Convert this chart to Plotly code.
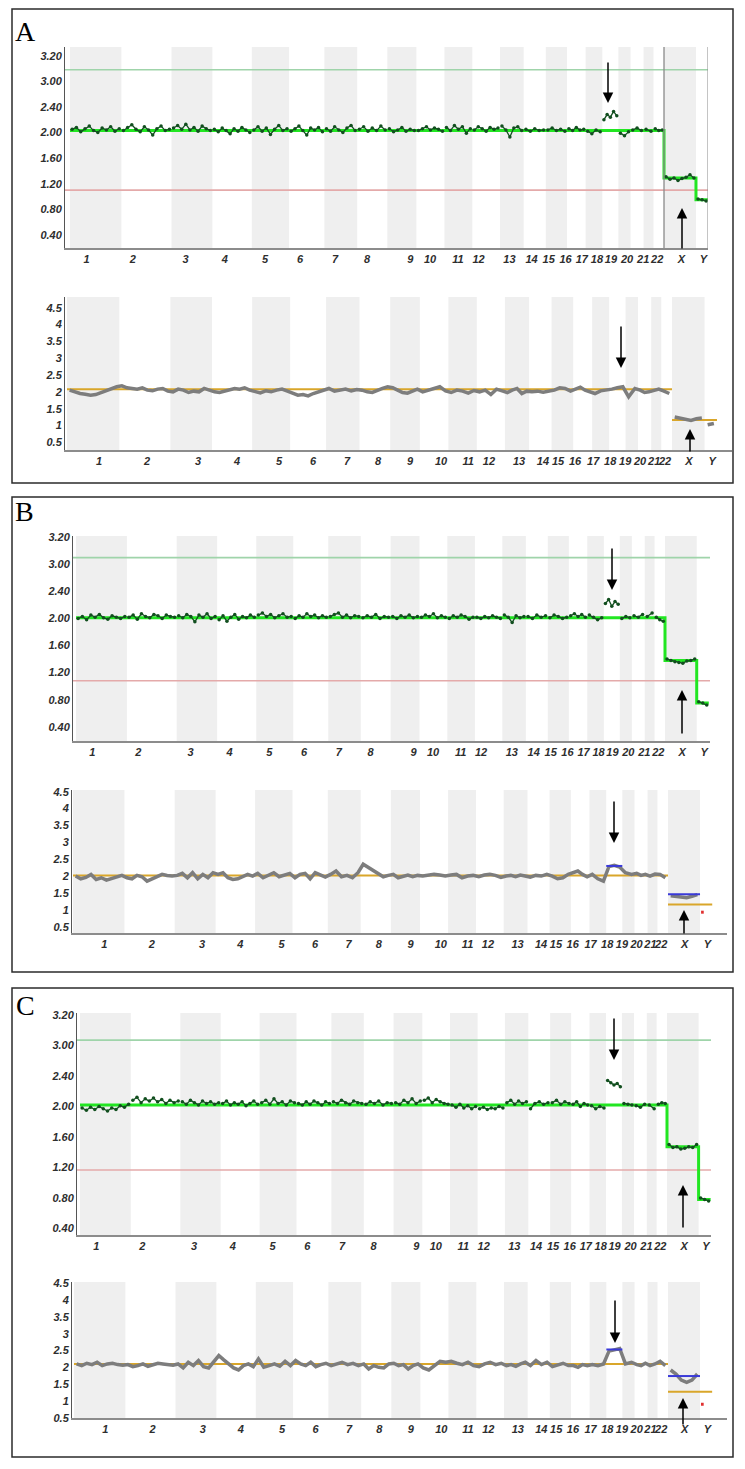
import plotly.graph_objects as go

W, H = 745, 1469

# ---------------- data ----------------
chroms = [str(i) for i in range(1, 23)] + ["X", "Y"]
chrom_len = [249, 243, 198, 191, 181, 171, 159, 146, 141, 136, 135, 134,
             115, 107, 103, 90, 81, 78, 59, 63, 48, 51, 155, 59]

top_ticks_vals = [0.4, 0.8, 1.2, 1.6, 2.0, 2.4, 2.8, 3.2]
top_ticks_text = ["0.40", "0.80", "1.20", "1.60", "2.00", "2.40", "3.00", "3.20"]
bot_ticks_vals = [0.5, 1, 1.5, 2, 2.5, 3, 3.5, 4, 4.5]
bot_ticks_text = ["0.5", "1", "1.5", "2", "2.5", "3", "3.5", "4", "4.5"]

# copy-number points (top plots), per chromosome
a_top = [
    [2.05, 2.08, 2.01, 2.06, 2.10, 2.03, 2.00, 2.07, 2.04, 2.09, 2.02, 2.06],
    [2.03, 2.08, 2.12, 2.05, 2.01, 2.09, 2.04, 1.96, 2.06, 2.10, 2.03, 2.05],
    [2.07, 2.11, 2.05, 2.13, 2.04, 2.08, 2.02, 2.10, 2.06, 2.03],
    [2.05, 2.01, 2.07, 2.03, 1.98, 2.06, 2.02, 2.08, 2.04, 2.00],
    [2.04, 2.09, 2.02, 2.07, 1.97, 2.05, 2.11, 2.03, 2.06],
    [2.02, 2.06, 2.10, 2.03, 1.96, 2.07, 2.04, 2.08, 2.01],
    [2.06, 2.02, 2.09, 2.04, 2.00, 2.07, 2.11, 2.03],
    [2.05, 2.09, 2.02, 2.07, 2.03, 2.10, 2.04],
    [2.06, 2.01, 2.04, 2.08, 2.02, 2.05, 2.03],
    [2.03, 2.06, 2.09, 2.04, 2.07, 2.05, 2.02],
    [2.08, 2.03, 2.11, 2.05, 2.09, 1.99, 2.06],
    [2.04, 2.09, 2.06, 2.02, 2.08, 2.05, 2.07],
    [2.10, 2.04, 1.93, 2.07, 2.09, 2.03],
    [2.05, 2.02, 2.06, 2.03, 2.04],
    [2.04, 2.07, 2.03, 2.05, 2.02],
    [2.06, 2.03, 2.08, 2.04, 2.05],
    [2.02, 1.98, 2.04, 2.01],
    [2.20, 2.28, 2.24, 2.33, 2.26],
    [1.99, 1.95, 2.01],
    [2.04, 2.07, 2.03],
    [2.05, 2.02],
    [2.06, 2.03, 2.04],
    [1.31, 1.27, 1.29, 1.25, 1.28, 1.30, 1.34, 1.29],
    [0.96, 0.95, 0.93],
]
b_top = [
    [2.00, 2.03, 1.98, 2.05, 2.02, 2.06, 2.01, 1.99, 2.04, 2.02, 2.00, 2.03],
    [2.02, 2.05, 1.99, 2.07, 2.03, 2.01, 2.06, 2.04, 2.00, 2.05, 2.03, 2.02],
    [2.04, 2.01, 2.06, 2.03, 1.95, 2.05, 2.02, 2.07, 2.00, 2.03],
    [1.98, 2.04, 1.96, 2.02, 2.06, 1.99, 2.03, 2.01, 2.05, 2.02],
    [2.05, 2.08, 2.03, 2.06, 2.01, 2.04, 2.07, 2.02, 2.03],
    [2.00, 2.04, 2.02, 2.07, 2.03, 2.05, 2.01, 2.04, 2.02],
    [2.03, 2.06, 2.08, 2.02, 2.05, 2.01, 2.04, 2.03],
    [2.01, 2.04, 2.02, 2.06, 2.00, 2.03, 2.02],
    [2.03, 2.00, 2.04, 2.02, 2.05, 2.01, 2.03],
    [2.02, 2.05, 2.03, 2.07, 2.01, 2.04, 2.02],
    [2.00, 2.04, 2.02, 2.05, 2.03, 1.99, 2.02],
    [2.02, 2.00, 2.03, 2.01, 2.04, 2.02, 2.00],
    [2.05, 2.02, 1.94, 2.04, 2.01, 2.03],
    [2.03, 2.00, 2.05, 2.02, 2.04],
    [2.01, 2.05, 2.03, 2.00, 2.02],
    [2.04, 2.07, 2.03, 2.06, 2.02],
    [2.05, 2.02, 1.98, 2.01],
    [2.22, 2.28, 2.18, 2.25, 2.21],
    [2.00, 2.03, 2.01],
    [2.04, 2.02, 2.06],
    [2.03, 2.08],
    [2.02, 1.98, 1.96],
    [1.40, 1.38, 1.36, 1.35, 1.34, 1.37, 1.38, 1.40],
    [0.77, 0.75, 0.72],
]
c_top = [
    [1.98, 1.95, 1.99, 1.96, 2.00, 1.97, 1.94, 1.98, 1.96, 2.01, 1.99, 2.03],
    [2.08, 2.12, 2.05, 2.10, 2.07, 2.11, 2.06, 2.09, 2.04, 2.08, 2.05, 2.07],
    [2.06, 2.03, 2.08, 2.05, 2.02, 2.07, 2.04, 2.06, 2.03, 2.05],
    [2.04, 2.07, 2.02, 2.05, 2.03, 2.06, 2.01, 2.04, 2.07, 2.03],
    [2.05, 2.08, 2.03, 2.10, 2.04, 2.06, 2.02, 2.07, 2.05],
    [2.04, 2.02, 2.06, 2.03, 2.07, 2.05, 2.02, 2.06, 2.04],
    [2.06, 2.04, 2.08, 2.05, 2.03, 2.07, 2.05, 2.04],
    [2.03, 2.06, 2.04, 2.07, 2.02, 2.05, 2.04],
    [2.05, 2.03, 2.08, 2.05, 2.10, 2.04, 2.07],
    [2.08, 2.11, 2.05, 2.09, 2.06, 2.04, 2.03],
    [2.02, 1.99, 2.03, 1.98, 2.01, 1.97, 2.00],
    [1.97, 1.99, 1.96, 1.98, 1.97, 2.00, 1.98],
    [2.05, 2.08, 2.03, 2.07, 2.04, 2.06],
    [1.97, 2.04, 2.06, 2.03, 2.05],
    [2.05, 2.08, 2.03, 2.06, 2.04],
    [2.03, 2.06, 2.00, 2.04, 2.02],
    [2.01, 1.97, 2.00, 1.98],
    [2.34, 2.31, 2.28, 2.30, 2.26],
    [2.04, 2.03, 2.02],
    [2.01, 1.99, 2.03],
    [2.02, 1.97],
    [2.03, 2.05, 2.04],
    [1.50, 1.46, 1.47, 1.44, 1.45, 1.47, 1.46, 1.50],
    [0.80, 0.78, 0.76],
]
# segment levels [autosomes, X, Y]
a_seg = [2.03, 1.29, 0.95]
b_seg = [2.01, 1.38, 0.75]
c_seg = [2.02, 1.47, 0.78]
# threshold lines [gain, loss]
a_thr = [2.98, 1.10]
b_thr = [2.90, 1.08]
c_thr = [2.87, 1.165]

# ratio profiles (bottom plots), per chromosome
a_bot = [
    [2.05, 2.00, 1.95, 1.93, 1.90, 1.92, 1.98, 2.03, 2.10, 2.15],
    [2.18, 2.12, 2.10, 2.08, 2.12, 2.05, 2.03, 2.08, 2.10, 2.02],
    [2.00, 2.08, 2.05, 1.98, 2.02, 2.00, 2.10, 2.05],
    [2.00, 1.98, 2.02, 2.08, 2.10, 2.08, 2.12, 2.05],
    [2.00, 1.97, 2.03, 2.00, 2.05, 2.08, 2.02],
    [1.97, 1.90, 1.92, 1.88, 1.95, 2.00, 2.05],
    [2.10, 2.02, 2.05, 2.08, 2.03, 2.07],
    [2.05, 2.00, 1.98, 2.05, 2.10, 2.15],
    [2.12, 2.05, 1.98, 1.96, 2.02, 2.08],
    [2.00, 2.05, 2.10, 2.15, 2.03],
    [1.98, 2.05, 2.02, 1.96, 2.04],
    [2.00, 2.05, 1.92, 2.08, 2.03],
    [1.98, 2.05, 2.10, 1.95, 2.02],
    [2.00, 2.02, 1.99, 2.01],
    [2.05, 2.12, 2.10, 2.02],
    [2.08, 2.14, 2.05, 2.00],
    [1.95, 2.03, 2.05],
    [2.08, 2.12, 2.15],
    [1.85, 2.10],
    [2.05, 1.98, 2.00],
    [2.05, 2.08],
    [2.02, 1.95],
    [1.25, 1.22, 1.18, 1.15, 1.20, 1.22],
    [1.02, 1.06],
]
b_bot = [
    [2.00, 1.92, 1.96, 2.05, 1.90, 1.95, 1.88, 1.93, 1.98, 2.02],
    [1.95, 1.92, 2.02, 1.98, 1.85, 1.92, 2.00, 2.05, 2.02, 2.00],
    [2.02, 2.08, 1.95, 2.10, 1.92, 2.05, 1.95, 2.10],
    [2.05, 2.10, 1.95, 1.90, 1.92, 1.98, 2.05, 2.00],
    [2.08, 1.95, 2.02, 2.10, 1.98, 2.03, 2.08],
    [1.95, 2.05, 2.08, 1.92, 2.10, 2.03, 1.97],
    [2.05, 2.15, 1.98, 2.02, 1.95, 2.10],
    [2.35, 2.25, 2.15, 2.05, 1.98, 2.02],
    [2.05, 1.95, 2.00, 2.03, 1.98, 2.02],
    [2.00, 2.02, 2.05, 2.03, 2.00],
    [2.03, 2.05, 1.95, 2.00, 2.02],
    [1.98, 2.03, 2.05, 2.02, 1.96],
    [2.00, 2.02, 1.98, 2.03, 2.00],
    [1.97, 2.02, 2.00, 2.05],
    [2.00, 1.92, 1.95, 2.05],
    [2.10, 2.15, 2.05, 1.98],
    [2.05, 1.92, 1.85],
    [2.28, 2.32, 2.27],
    [2.10, 2.05],
    [2.08, 2.02, 2.05],
    [2.00, 2.06],
    [2.05, 1.95],
    [1.42, 1.40, 1.38, 1.36, 1.40, 1.45],
    [],
]
c_bot = [
    [2.10, 2.05, 2.12, 2.08, 2.15, 2.05, 2.10, 2.12, 2.08, 2.06],
    [2.08, 2.02, 2.05, 2.10, 2.03, 2.08, 2.12, 2.10, 2.08, 2.06],
    [2.10, 1.98, 2.15, 2.05, 2.20, 2.02, 1.98, 2.18],
    [2.35, 2.22, 2.10, 1.98, 1.92, 2.05, 2.10, 2.02],
    [2.25, 2.00, 2.05, 2.10, 2.03, 2.18, 2.05],
    [2.20, 2.10, 2.05, 2.15, 2.02, 2.08, 2.12],
    [2.05, 2.10, 2.15, 2.08, 2.12, 2.05],
    [2.10, 1.95, 2.05, 2.00, 1.98, 2.10],
    [2.12, 2.05, 2.08, 1.95, 2.05, 2.10],
    [1.98, 1.92, 2.05, 2.18, 2.15],
    [2.18, 2.12, 2.08, 2.15, 2.05],
    [2.02, 2.10, 2.15, 2.08, 2.12],
    [2.05, 2.08, 2.03, 2.10, 2.15],
    [2.05, 2.20, 2.08, 2.15],
    [2.02, 2.08, 2.12, 2.05],
    [2.05, 2.00, 2.08, 2.05],
    [2.08, 2.05, 2.10],
    [2.48, 2.52, 2.56],
    [2.10, 2.15],
    [2.08, 2.05, 2.12],
    [2.05, 2.10],
    [2.18, 2.05],
    [1.92, 1.80, 1.62, 1.55, 1.62, 1.80],
    [],
]
# baseline levels [autosomes, sex chromosomes]
a_base = [2.08, 1.16]
b_base = [2.02, 1.16]
c_base = [2.10, 1.27]
# called segments: chr18 level, X level, Y level
b_calls = [2.30, 1.46, 0.93]
c_calls = [2.53, 1.74, 0.90]

# tick label positions (Mb along genome)
top_label_pos = [80, 305, 560, 750, 945, 1115, 1285, 1440, 1650, 1745, 1880, 1980,
                 2130, 2237, 2320, 2402, 2481, 2554, 2622, 2700, 2778, 2846, 2963, 3070]
bot_label_pos = [152, 381, 624, 809, 1009, 1171, 1333, 1480, 1633, 1780, 1909, 2008,
                 2151, 2265, 2337, 2418, 2504, 2585, 2656, 2727, 2794, 2846, 2960, 3070]

# ---------------- helpers ----------------
starts = []
acc = 0
for L in chrom_len:
    starts.append(acc)
    acc += L
genome_end = acc
x_start = starts[22]
y_start = starts[23]


def pxx(p):
    return p / W


def pxy(p):
    return 1 - p / H


fig = go.Figure()
shapes = []
annotations = []

TICKFONT = dict(family="Liberation Sans", size=11, color="#2e2e2e",
                weight="bold", style="italic")


def setup_axes(n, geom, ytv, ytt, label_pos):
    left, right, p0, pX, top, bottom, yv, ypx, ppu = geom
    s = (pX - p0) / x_start
    xr = [(left - p0) / s, (right - p0) / s]
    yr = [yv - (bottom - ypx) / ppu, yv + (ypx - top) / ppu]
    xa = "xaxis" if n == 1 else f"xaxis{n}"
    ya = "yaxis" if n == 1 else f"yaxis{n}"
    xn = "x" if n == 1 else f"x{n}"
    yn = "y" if n == 1 else f"y{n}"
    fig.layout[xa] = dict(domain=[pxx(left), pxx(right)], range=xr, anchor=yn,
                          showgrid=False, zeroline=False, showline=True,
                          linecolor="#8c8c8c", linewidth=2, ticks="",
                          tickvals=label_pos, ticktext=chroms, tickfont=TICKFONT,
                          tickangle=0, fixedrange=True, automargin=False)
    fig.layout[ya] = dict(domain=[pxy(bottom), pxy(top)], range=yr, anchor=xn,
                          showgrid=False, zeroline=False, showline=True,
                          linecolor="#555555", linewidth=1, ticks="",
                          tickvals=ytv, ticktext=ytt, tickfont=TICKFONT,
                          fixedrange=True, automargin=False)
    for i, c in enumerate(chroms):
        if c == "Y":
            continue
        if (i % 2 == 0 and i < 22) or c == "X":
            shapes.append(dict(type="rect", xref=xn, yref=f"{yn} domain",
                               x0=starts[i], x1=starts[i] + chrom_len[i], y0=0, y1=1,
                               fillcolor="#efefef", line=dict(width=0), layer="below"))
    return xn, yn


def per_chrom_xy(vals, gaps=True):
    xs, ys = [], []
    for i, v in enumerate(vals):
        n = len(v)
        if n == 0:
            continue
        for k, val in enumerate(v):
            xs.append(starts[i] + chrom_len[i] * (k + 0.5) / n)
            ys.append(val)
        if gaps or i >= 21:
            xs.append(None)
            ys.append(None)
    return xs, ys


def add_top(n, geom, vals, seg, thr):
    xn, yn = setup_axes(n, geom, top_ticks_vals, top_ticks_text, top_label_pos)
    xr = fig.layout["xaxis" if n == 1 else f"xaxis{n}"].range
    for lvl, col in [(thr[0], "#9fd4aa"), (thr[1], "#e4aaaa")]:
        fig.add_trace(go.Scatter(x=[xr[0], xr[1]], y=[lvl, lvl], mode="lines",
                                 line=dict(color=col, width=1.6), xaxis=xn, yaxis=yn,
                                 showlegend=False, hoverinfo="skip"))
    xs, ys = per_chrom_xy(vals)
    fig.add_trace(go.Scatter(x=[0, x_start, y_start, genome_end],
                             y=[seg[0], seg[1], seg[2], seg[2]],
                             mode="lines", line=dict(color="#22e622", width=3, shape="hv"),
                             xaxis=xn, yaxis=yn, showlegend=False, hoverinfo="skip"))
    fig.add_trace(go.Scatter(x=xs, y=ys, mode="lines+markers",
                             line=dict(color="#124f1f", width=1.3),
                             marker=dict(color="#124f1f", size=3.5),
                             xaxis=xn, yaxis=yn, showlegend=False, hoverinfo="skip"))
    return xn, yn


def add_bot(n, geom, vals, base, calls):
    xn, yn = setup_axes(n, geom, bot_ticks_vals, bot_ticks_text, bot_label_pos)
    xs, ys = per_chrom_xy(vals, gaps=False)
    fig.add_trace(go.Scatter(x=[0, x_start, None, x_start, genome_end],
                             y=[base[0], base[0], None, base[1], base[1]],
                             mode="lines", line=dict(color="#d9a62a", width=2),
                             xaxis=xn, yaxis=yn, showlegend=False, hoverinfo="skip"))
    fig.add_trace(go.Scatter(x=xs, y=ys, mode="lines",
                             line=dict(color="#7d7d7d", width=3.5),
                             xaxis=xn, yaxis=yn, showlegend=False, hoverinfo="skip"))
    if calls is not None:
        c18, cx, cy = calls
        fig.add_trace(go.Scatter(x=[starts[17], starts[17] + chrom_len[17], None,
                                    x_start, x_start + chrom_len[22]],
                                 y=[c18, c18, None, cx, cx], mode="lines",
                                 line=dict(color="#3a3ad8", width=2),
                                 xaxis=xn, yaxis=yn, showlegend=False, hoverinfo="skip"))
        fig.add_trace(go.Scatter(x=[y_start + 5, y_start + 18], y=[cy, cy], mode="lines",
                                 line=dict(color="#e03030", width=3),
                                 xaxis=xn, yaxis=yn, showlegend=False, hoverinfo="skip"))


# geometry: left, right, chr1-start px, X-start px, top, bottom, ref value, ref px, px/unit
geoms = {
    "A_top": (65, 708, 70, 664, 47, 248, 3.2, 55.7, 64.0),
    "A_bot": (65, 732, 67, 672, 297, 450, 4.5, 307.7, 33.65),
    "B_top": (73, 710, 76, 665, 536, 741, 3.2, 537.3, 67.65),
    "B_bot": (72, 727, 73, 668, 790, 933, 4.5, 791.7, 33.75),
    "C_top": (77, 711, 80, 667, 1013, 1235, 3.2, 1015, 76.2),
    "C_bot": (72, 727, 74, 668, 1282, 1418, 4.5, 1283.3, 33.6),
}

add_top(1, geoms["A_top"], a_top, a_seg, a_thr)
add_bot(2, geoms["A_bot"], a_bot, a_base, None)
add_top(3, geoms["B_top"], b_top, b_seg, b_thr)
add_bot(4, geoms["B_bot"], b_bot, b_base, b_calls)
add_top(5, geoms["C_top"], c_top, c_seg, c_thr)
add_bot(6, geoms["C_bot"], c_bot, c_base, c_calls)

# vertical separators in panel A top
for xv in [x_start, genome_end]:
    shapes.append(dict(type="line", xref="x", yref="y domain", x0=xv, x1=xv, y0=0, y1=1,
                       line=dict(color="#8a8a8a", width=1.3)))

# panel boxes
for (x0, y0, x1, y1) in [(12, 9, 733, 483), (12, 497, 733, 972), (12, 988, 733, 1457)]:
    shapes.append(dict(type="rect", xref="paper", yref="paper",
                       x0=pxx(x0), x1=pxx(x1), y0=pxy(y1), y1=pxy(y0),
                       line=dict(color="#2b2b2b", width=1.5), fillcolor="rgba(0,0,0,0)"))

# panel letters
for txt, (x, y) in [("A", (26, 31)), ("B", (24, 512)), ("C", (25, 1005))]:
    annotations.append(dict(text=txt, x=pxx(x), y=pxy(y), xref="paper", yref="paper",
                            showarrow=False, xanchor="center", yanchor="middle",
                            font=dict(family="Liberation Serif", size=28, color="black")))

# arrows (head x, head y, tail x, tail y) in pixels
arrows = [
    (608, 103, 608, 61), (682, 208, 682, 250),
    (621, 368, 621, 325), (690, 429, 690, 453),
    (612, 590, 612, 547), (682, 690, 682, 735),
    (614, 843, 614, 800), (684, 910, 684, 935),
    (614, 1060, 614, 1017), (683, 1185, 683, 1229),
    (615, 1343, 615, 1299), (683, 1398, 683, 1426),
]
for hx, hy, tx, ty in arrows:
    annotations.append(dict(text="", x=pxx(hx), y=pxy(hy), xref="paper", yref="paper",
                            ax=tx - hx, ay=ty - hy, showarrow=True, arrowhead=2,
                            arrowsize=1.4, arrowwidth=1.5, arrowcolor="black"))

fig.update_layout(width=W, height=H, margin=dict(l=0, r=0, t=0, b=0, pad=0),
                  paper_bgcolor="white", plot_bgcolor="white",
                  shapes=shapes, annotations=annotations, showlegend=False)

fig.write_html("out.html", config={"displayModeBar": False},
               post_script="document.body.style.margin='0px';"
                           "document.body.style.padding='0px';"
                           "document.body.style.overflow='hidden';")
